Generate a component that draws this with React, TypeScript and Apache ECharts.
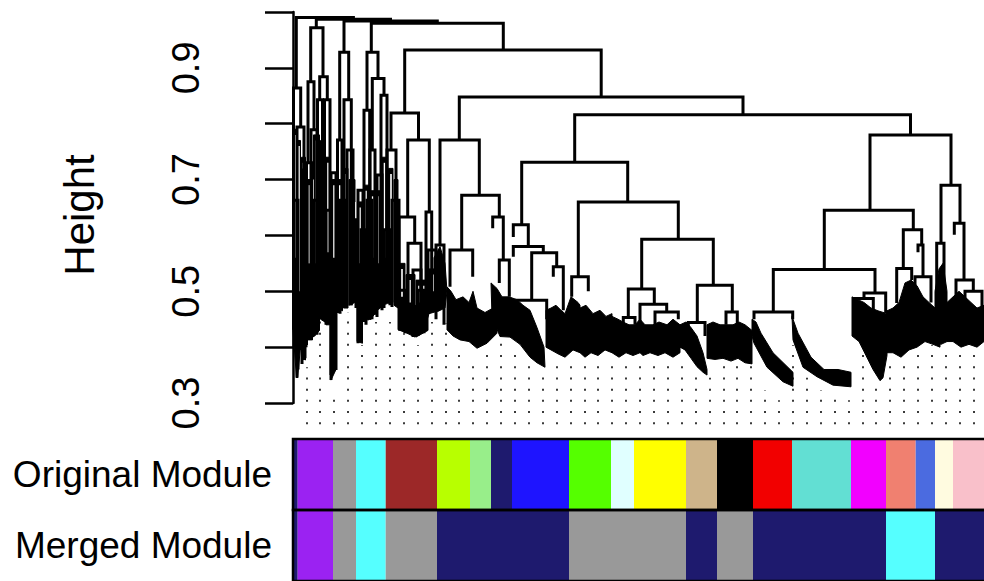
import React, { useEffect, useRef } from 'react';
import * as echarts from 'echarts';

const FONT = '"Liberation Sans", Arial, sans-serif';

// ---- y axis ----
const heightTicksShown = ['0.3', '0.5', '0.7', '0.9'];
const rowLabels = ['Original Module', 'Merged Module'];

// ---- dendrogram merges: [xLeft, xRight, mergeHeight, leftLegBottom, rightLegBottom] (x = gene order position) ----
const mainLinks: number[][] = [
  [3.3, 60.4, 0.990, 0.864, 0.987],
  [23.3, 97.5, 0.987, 0.972, 0.984],
  [51, 144.3, 0.984, 0.928, 0.980],
  [78.3, 210.3, 0.980, 0.928, 0.932],
  [17.7, 30, 0.972, 0.875, 0.884],
  [46.7, 55.7, 0.928, 0.771, 0.843],
  [74, 85, 0.928, 0.824, 0.881],
  [79.3, 91, 0.881, 0.753, 0.851],
  [111.7, 308.2, 0.932, 0.819, 0.848],
  [166.3, 450, 0.848, 0.771, 0.816],
  [281.7, 617.5, 0.816, 0.731, 0.780],
  [98, 125.5, 0.819, 0.753, 0.771],
  [114.7, 136.3, 0.771, 0.633, 0.642],
  [106, 121.7, 0.633, 0.484, 0.586],
  [115, 128, 0.586, 0.44, 0.43],
  [133, 138.7, 0.642, 0.47, 0.49],
  [94, 103, 0.753, 0.484, 0.479],
  [147, 186.3, 0.771, 0.583, 0.672],
  [168.7, 206.3, 0.672, 0.574, 0.633],
  [157, 179.7, 0.574, 0.508, 0.526],
  [199.7, 210.3, 0.633, 0.613, 0.556],
  [206.3, 216.3, 0.556, 0.515, 0.490],
  [143, 151, 0.583, 0.45, 0.44],
  [228.7, 334.7, 0.731, 0.619, 0.660],
  [220.3, 235.3, 0.619, 0.597, 0.580],
  [220.3, 250.3, 0.580, 0.562, 0.569],
  [238.7, 263.7, 0.569, 0.484, 0.544],
  [223.7, 253.7, 0.484, 0.46, 0.45],
  [260.3, 270.3, 0.544, 0.526, 0.466],
  [285.3, 385.3, 0.660, 0.526, 0.593],
  [278.7, 295.3, 0.526, 0.49, 0.50],
  [348.7, 420.3, 0.593, 0.504, 0.511],
  [335.3, 361.3, 0.504, 0.453, 0.477],
  [330.3, 342, 0.453, 0.44, 0.44],
  [347, 373.7, 0.477, 0.440, 0.463],
  [362, 385.3, 0.463, 0.44, 0.45],
  [404.3, 439.3, 0.511, 0.444, 0.463],
  [395.3, 412, 0.444, 0.43, 0.42],
  [433, 444.3, 0.463, 0.44, 0.44],
  [577, 658, 0.780, 0.645, 0.690],
  [531.3, 620.3, 0.645, 0.539, 0.610],
  [480.3, 582, 0.539, 0.463, 0.497],
  [461, 499.7, 0.463, 0.45, 0.45],
  [571, 592.7, 0.497, 0.487, 0.461],
  [562, 580.3, 0.487, 0.44, 0.45],
  [610.3, 628.7, 0.610, 0.541, 0.583],
  [603.7, 618.7, 0.541, 0.479, 0.520],
  [625, 630, 0.583, 0.57, 0.526],
  [622, 638, 0.526, 0.48, 0.48],
  [648, 667, 0.690, 0.586, 0.622],
  [643.7, 651, 0.586, 0.45, 0.47],
  [661.3, 671, 0.622, 0.601, 0.520],
  [663, 680.3, 0.520, 0.47, 0.50],
  [672, 689, 0.50, 0.46, 0.47],
];

// dense left-hand branches
const forestLinks: number[][] = [
  [0.5, 7.7, 0.864, 0.431, 0.794],
  [4, 11, 0.794, 0.345, 0.377],
  [8.5, 13, 0.717, 0.395, 0.400],
  [15, 21, 0.875, 0.730, 0.789],
  [13.5, 18.5, 0.730, 0.404, 0.413],
  [18, 24, 0.789, 0.418, 0.422],
  [26.7, 34.3, 0.884, 0.843, 0.843],
  [24.5, 29.5, 0.843, 0.440, 0.458],
  [31.5, 37, 0.843, 0.452, 0.466],
  [38, 43, 0.712, 0.341, 0.359],
  [44.5, 49, 0.771, 0.461, 0.470],
  [51, 58.3, 0.843, 0.479, 0.475],
  [54, 60, 0.753, 0.474, 0.484],
  [65, 70, 0.681, 0.407, 0.449],
  [71, 76.7, 0.824, 0.445, 0.452],
  [77, 82, 0.753, 0.449, 0.458],
  [88, 94, 0.851, 0.475, 0.479],
  [84, 89, 0.708, 0.454, 0.466],
  [99, 106, 0.663, 0.472, 0.475],
  [106, 112, 0.502, 0.431, 0.425],
  [120, 128, 0.538, 0.418, 0.425],
  [135, 143, 0.574, 0.466, 0.472],
  [1, 5, 0.663, 0.400, 0.360],
  [9, 12, 0.610, 0.370, 0.380],
  [21, 25, 0.663, 0.420, 0.430],
  [33, 38, 0.645, 0.440, 0.350],
  [47, 52, 0.663, 0.460, 0.470],
  [58, 63, 0.628, 0.475, 0.470],
  [68, 73, 0.610, 0.410, 0.440],
  [74, 79, 0.663, 0.450, 0.450],
  [91, 97, 0.610, 0.470, 0.475],
  [125, 131, 0.502, 0.420, 0.425],
];

// packed leaf columns of the left-hand branches: [xLeft, xRight, top, bottomLeft, bottomRight]
const forestColumns: number[][] = [
  [0, 3.5, 0.79, 0.43, 0.345],
  [4.5, 7.5, 0.77, 0.345, 0.40],
  [8.5, 12.5, 0.74, 0.38, 0.377],
  [13.5, 19.5, 0.70, 0.413, 0.413],
  [20.5, 26.5, 0.78, 0.418, 0.43],
  [27.5, 32, 0.77, 0.45, 0.445],
  [33, 36.5, 0.74, 0.44, 0.44],
  [38, 43, 0.70, 0.341, 0.36],
  [44, 49.5, 0.70, 0.47, 0.465],
  [50.5, 55, 0.72, 0.47, 0.47],
  [56, 62, 0.70, 0.475, 0.48],
  [64, 69.5, 0.66, 0.41, 0.407],
  [70.5, 76, 0.69, 0.449, 0.449],
  [77, 82, 0.68, 0.449, 0.46],
  [83, 87.5, 0.68, 0.465, 0.47],
  [88.5, 94.5, 0.74, 0.475, 0.478],
  [95.5, 100, 0.72, 0.478, 0.48],
  [101, 105, 0.70, 0.475, 0.47],
  [105.5, 112, 0.55, 0.43, 0.43],
  [113, 122, 0.53, 0.43, 0.42],
  [123, 135, 0.52, 0.418, 0.43],
  [136, 146, 0.54, 0.465, 0.465],
];

// thin gaps between packed leaves: [position, top, bottom]
const forestGaps: number[][] = [
  [2.2, 0.78, 0.56], [6, 0.76, 0.50], [10.5, 0.73, 0.50], [16.5, 0.69, 0.55], [19.9, 0.70, 0.60],
  [23.5, 0.77, 0.55], [29.8, 0.76, 0.52], [35, 0.73, 0.57], [41, 0.69, 0.56], [46.8, 0.69, 0.52],
  [52.8, 0.71, 0.55], [59, 0.69, 0.54], [67, 0.65, 0.55], [73, 0.68, 0.52], [79.5, 0.67, 0.56],
  [85, 0.67, 0.55], [91.5, 0.73, 0.56], [98, 0.71, 0.55], [103, 0.69, 0.53], [109, 0.54, 0.49],
  [117, 0.52, 0.48], [126, 0.51, 0.48], [131, 0.51, 0.49], [140, 0.53, 0.50], [13, 0.70, 0.58],
  [37.3, 0.72, 0.6], [63, 0.66, 0.58], [87.8, 0.68, 0.6],
];

// dense low-level leaf masses: outlines as [position, height]
const fringeBlobs: number[][][] = [
  [[107, 0.48], [115, 0.47], [122, 0.475], [130, 0.47], [137, 0.48], [146, 0.47], [146, 0.465], [136, 0.46], [131, 0.43], [122, 0.418], [114, 0.425], [107, 0.43]],
  [[141, 0.56], [147, 0.58], [152, 0.55], [154, 0.50], [152, 0.47], [146, 0.465], [141, 0.47]],
  [[154, 0.508], [158, 0.50], [163, 0.485], [170, 0.49], [176, 0.48], [180, 0.50], [184, 0.47], [192, 0.462], [198, 0.468], [204, 0.47], [204, 0.425], [194, 0.407], [184, 0.398], [176, 0.41], [167, 0.413], [160, 0.42], [154, 0.431]],
  [[198, 0.515], [204, 0.505], [209, 0.49], [216, 0.49], [224, 0.485], [230, 0.475], [237, 0.466], [244, 0.435], [251, 0.40], [252, 0.364], [244, 0.372], [237, 0.382], [227, 0.405], [217, 0.418], [207, 0.419], [199, 0.454]],
  [[253, 0.466], [258, 0.47], [263, 0.475], [268, 0.466], [272, 0.46], [278, 0.49], [285, 0.48], [287, 0.475], [287, 0.39], [280, 0.395], [272, 0.382], [265, 0.388], [258, 0.395], [253, 0.40]],
  [[287, 0.47], [293, 0.475], [300, 0.46], [307, 0.466], [313, 0.455], [319, 0.46], [319, 0.39], [312, 0.395], [305, 0.385], [298, 0.39], [292, 0.382], [287, 0.39]],
  [[319, 0.455], [325, 0.45], [330, 0.445], [336, 0.44], [342, 0.44], [347, 0.45], [347, 0.39], [340, 0.385], [333, 0.39], [326, 0.382], [319, 0.39]],
  [[347, 0.45], [352, 0.44], [360, 0.44], [366, 0.445], [374, 0.44], [380, 0.45], [387, 0.44], [387, 0.39], [380, 0.382], [372, 0.39], [365, 0.385], [357, 0.39], [350, 0.385], [347, 0.39]],
  [[387, 0.44], [393, 0.445], [398, 0.435], [404, 0.42], [410, 0.39], [414, 0.36], [414, 0.35], [410, 0.355], [404, 0.365], [398, 0.38], [392, 0.395], [387, 0.40]],
  [[414, 0.44], [420, 0.445], [427, 0.44], [433, 0.44], [440, 0.44], [446, 0.445], [452, 0.44], [459, 0.43], [459, 0.37], [452, 0.372], [445, 0.38], [438, 0.375], [430, 0.38], [422, 0.378], [414, 0.38]],
  [[459, 0.45], [463, 0.445], [468, 0.425], [480, 0.39], [500, 0.355], [500, 0.33], [490, 0.338], [474, 0.364], [461, 0.407], [459, 0.42]],
  [[499, 0.455], [505, 0.425], [518, 0.382], [531, 0.36], [545, 0.36], [558, 0.355], [558, 0.329], [540, 0.332], [524, 0.347], [510, 0.364], [500, 0.413]],
  [[559, 0.49], [565, 0.485], [571, 0.48], [578, 0.47], [585, 0.465], [594, 0.46], [594, 0.385], [590, 0.345], [587, 0.34], [580, 0.36], [573, 0.385], [566, 0.41], [559, 0.42]],
  [[594, 0.465], [600, 0.47], [606, 0.48], [612, 0.515], [618, 0.52], [624, 0.51], [630, 0.49], [636, 0.48], [642, 0.47], [647, 0.45], [647, 0.40], [640, 0.405], [632, 0.41], [624, 0.40], [616, 0.395], [608, 0.382], [600, 0.39], [594, 0.39]],
  [[642, 0.50], [646, 0.54], [650, 0.55], [654, 0.50], [654, 0.41], [648, 0.405], [642, 0.41]],
  [[654, 0.48], [660, 0.49], [666, 0.50], [672, 0.49], [678, 0.48], [684, 0.47], [691, 0.475], [691, 0.41], [684, 0.40], [676, 0.405], [668, 0.40], [660, 0.41], [654, 0.41]],
];

// hanging leaf columns (dotted), top height of each column, left to right
const dotTops = [0.364, 0.502, 0.320, 0.463, 0.404, 0.445, 0.445, 0.425, 0.404, 0.445, 0.443, 0.395, 0.382, 0.395, 0.413, 0.395, 0.373, 0.355, 0.382, 0.373, 0.373, 0.382, 0.373, 0.373, 0.373, 0.382, 0.373, 0.373, 0.355, 0.345, 0.368, 0.377, 0.368, 0.323, 0.305, 0.404, 0.345, 0.323, 0.314, 0.305, 0.386, 0.332, 0.377, 0.377, 0.395, 0.404, 0.395, 0.386, 0.391];
const dotBase = 0.262;

// module colour bars: [start, end, colour name]
const originalModules: [number, number, string][] = [
  [0, 4.7, 'midnightblue'], [4.7, 40, 'purple'], [40, 63, 'grey60'], [63, 92.7, 'cyan'],
  [92.7, 144, 'brown'], [144, 177, 'greenyellow'], [177, 198, 'lightgreen'], [198, 219, 'midnightblue'],
  [219, 276, 'blue'], [276, 318, 'green'], [318, 341, 'lightcyan'], [341, 393, 'yellow'],
  [393, 424, 'tan'], [424, 460, 'black'], [460, 499, 'red'], [499, 558, 'turquoise'],
  [558, 593, 'magenta'], [593, 622.7, 'salmon'], [622.7, 642, 'royalblue'], [642, 660, 'lightyellow'],
  [660, 691, 'pink'],
];
const mergedModules: [number, number, string][] = [
  [0, 4.7, 'midnightblue'], [4.7, 40, 'purple'], [40, 63, 'grey60'], [63, 92.7, 'cyan'],
  [92.7, 144, 'grey60'], [144, 276, 'midnightblue'], [276, 393, 'grey60'], [393, 424, 'midnightblue'],
  [424, 460, 'grey60'], [460, 593, 'midnightblue'], [593, 642, 'cyan'], [642, 691, 'midnightblue'],
];

const palette: Record<string, string> = {
  midnightblue: '#1e1a6e', purple: '#9b22f2', grey60: '#999999', cyan: '#55ffff', brown: '#9c2828',
  greenyellow: '#b8ff00', lightgreen: '#98ee8a', blue: '#1e14ff', green: '#55ff00', lightcyan: '#e0ffff',
  yellow: '#ffff00', tan: '#ceb48a', black: '#000000', red: '#f20000', turquoise: '#62dfd3',
  magenta: '#f200ff', salmon: '#f08070', royalblue: '#4b6be0', lightyellow: '#fffbe0', pink: '#f9c0ca',
};

const X_MAX = 691;
const DOT_X0 = 13.5;
const DOT_STEP = 13.9;

export default function App() {
  const ref = useRef<HTMLDivElement>(null);
  useEffect(() => {
    const chart = echarts.init(ref.current!, null, { renderer: 'svg' });
    const links = [...mainLinks, ...forestLinks];
    const columnPolys = forestColumns.map((c) => [[c[0], c[2]], [c[1], c[2]], [c[1], c[4]], [c[0], c[3]]]);
    const polys = [...columnPolys, ...fringeBlobs];
    const barSegs = [
      ...originalModules.map((m) => [m[0], m[1], 0]),
      ...mergedModules.map((m) => [m[0], m[1], 1]),
    ];
    const barColors = [...originalModules, ...mergedModules].map((m) => palette[m[2]]);

    const option: any = {
      animation: false,
      backgroundColor: '#ffffff',
      grid: [
        { left: 293, right: 0, top: 12, height: 391 },
        { left: 293, right: 0, top: 439, height: 148 },
      ],
      xAxis: [
        { gridIndex: 0, type: 'value', min: 0, max: X_MAX, show: false },
        { gridIndex: 1, type: 'value', min: 0, max: X_MAX, show: false },
      ],
      yAxis: [
        {
          gridIndex: 0, type: 'value', min: 0.3, max: 1.0, interval: 0.1, offset: 26, position: 'left',
          axisLine: { show: true, lineStyle: { color: '#000', width: 2.5 } },
          axisTick: { show: true, length: 28, lineStyle: { color: '#000', width: 2.5 } },
          splitLine: { show: false },
          axisLabel: {
            rotate: 90, margin: 62, fontSize: 38, color: '#000', fontFamily: FONT,
            formatter: (v: number) => (heightTicksShown.includes(v.toFixed(1)) ? v.toFixed(1) : ''),
          },
        },
        {
          gridIndex: 1, type: 'category', data: rowLabels, inverse: true,
          axisLine: { show: false }, axisTick: { show: false }, splitLine: { show: false },
          axisLabel: { fontSize: 37, color: '#000', fontFamily: FONT, margin: 21 },
        },
      ],
      graphic: [
        {
          type: 'text', x: 79, y: 215, rotation: Math.PI / 2,
          style: { text: 'Height', fontSize: 42, fontFamily: FONT, fill: '#000', align: 'center', verticalAlign: 'middle' },
        },
      ],
      series: [
        {
          type: 'custom', name: 'leaves', xAxisIndex: 0, yAxisIndex: 0, clip: false,
          data: dotTops.map((t, k) => [DOT_X0 + k * DOT_STEP, t]),
          encode: { x: 0, y: 1 },
          renderItem: (params: any, api: any) => {
            const x = api.value(0);
            const p0 = api.coord([x, dotBase]);
            const p1 = api.coord([x, api.value(1)]);
            return {
              type: 'line',
              shape: { x1: Math.round(p0[0]), y1: p0[1], x2: Math.round(p1[0]), y2: p1[1] },
              style: { stroke: '#3a3a3a', lineWidth: 2, lineDash: [2, 9.2] },
            };
          },
        },
        {
          type: 'custom', name: 'modules', xAxisIndex: 1, yAxisIndex: 1, clip: false,
          data: barSegs,
          encode: { x: [0, 1], y: 2 },
          renderItem: (params: any, api: any) => {
            const s = api.coord([api.value(0), api.value(2)]);
            const e = api.coord([api.value(1), api.value(2)]);
            const bh = api.size([0, 1])[1];
            return {
              type: 'rect',
              shape: { x: s[0], y: s[1] - bh / 2, width: e[0] - s[0], height: bh },
              style: { fill: barColors[params.dataIndex] },
            };
          },
        },
        {
          type: 'custom', name: 'moduleBorders', xAxisIndex: 1, yAxisIndex: 1, clip: false,
          data: [[0, X_MAX, 0], [0, X_MAX, 1]],
          encode: { x: [0, 1], y: 2 },
          renderItem: (params: any, api: any) => {
            const s = api.coord([api.value(0), api.value(2)]);
            const e = api.coord([api.value(1), api.value(2)]);
            const bh = api.size([0, 1])[1];
            return {
              type: 'rect',
              shape: { x: s[0], y: s[1] - bh / 2, width: e[0] - s[0] + 4, height: bh },
              style: { fill: 'none', stroke: '#000', lineWidth: 2.5 },
            };
          },
        },
        {
          type: 'custom', name: 'leafMasses', xAxisIndex: 0, yAxisIndex: 0, clip: false,
          data: polys.map((b, i) => [b[0][0], b[0][1], i]),
          encode: { x: 0, y: 1 },
          renderItem: (params: any, api: any) => {
            const poly = polys[api.value(2)];
            return {
              type: 'polygon',
              shape: { points: poly.map((p) => api.coord(p)) },
              style: { fill: '#000', stroke: '#000', lineWidth: 1 },
            };
          },
        },
        {
          type: 'custom', name: 'leafGaps', xAxisIndex: 0, yAxisIndex: 0, clip: false,
          data: forestGaps,
          encode: { x: 0, y: [1, 2] },
          renderItem: (params: any, api: any) => {
            const a = api.coord([api.value(0), api.value(1)]);
            const b = api.coord([api.value(0), api.value(2)]);
            return {
              type: 'line',
              shape: { x1: a[0], y1: a[1], x2: b[0], y2: b[1] },
              style: { stroke: '#ffffff', lineWidth: 1.6 },
            };
          },
        },
        {
          type: 'custom', name: 'dendrogram', xAxisIndex: 0, yAxisIndex: 0, clip: false,
          data: links,
          encode: { x: [0, 1], y: [2, 3, 4] },
          renderItem: (params: any, api: any) => {
            const xL = api.value(0), xR = api.value(1), h = api.value(2);
            const pts = [
              api.coord([xL, api.value(3)]),
              api.coord([xL, h]),
              api.coord([xR, h]),
              api.coord([xR, api.value(4)]),
            ];
            return {
              type: 'polyline',
              shape: { points: pts },
              style: { stroke: '#000', lineWidth: 3, fill: 'none', lineJoin: 'miter' },
            };
          },
        },
      ],
    };
    chart.setOption(option);
    return () => chart.dispose();
  }, []);
  return (
    <div
      ref={ref}
      style={{ position: 'fixed', left: 0, top: 0, width: 984, height: 581, background: '#fff' }}
    />
  );
}
